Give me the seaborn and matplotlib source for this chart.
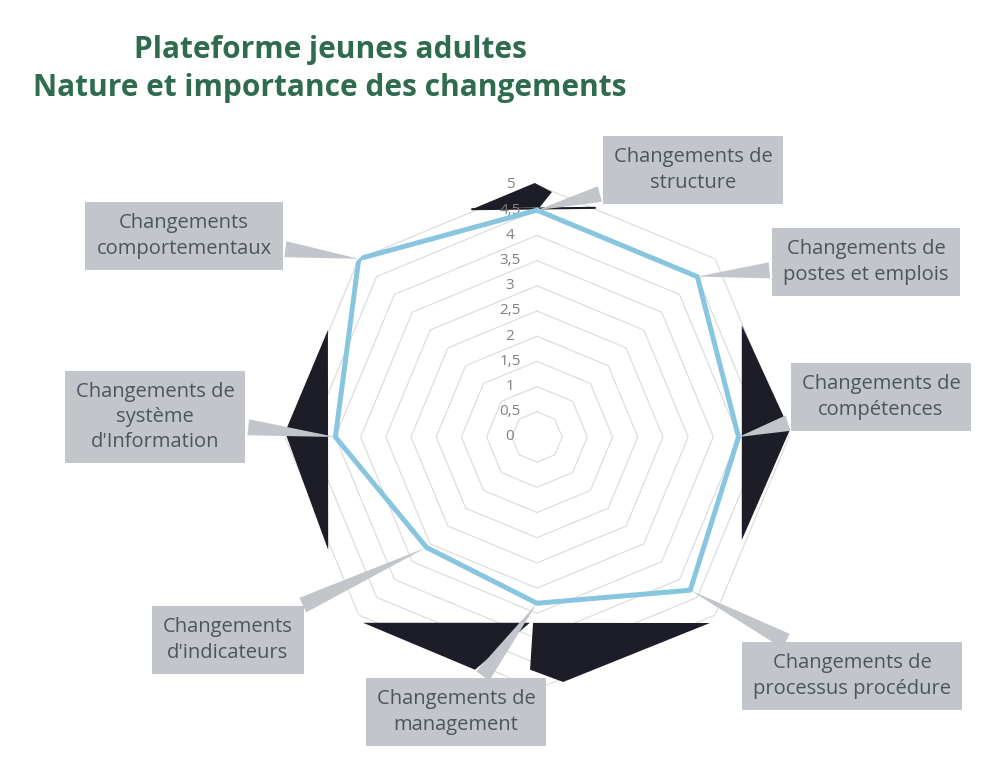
import numpy as np
import pandas as pd
import matplotlib
matplotlib.use("Agg")
import matplotlib.pyplot as plt
import matplotlib.transforms as mtransforms
import seaborn as sns

# style
sns.set_theme(style="white")
plt.rcParams['font.family'] = ['Open Sans', 'DejaVu Sans']

# données
categories = [
    "Changements de\nstructure",
    "Changements de\npostes et emplois",
    "Changements de\ncompétences",
    "Changements de\nprocessus procédure",
    "Changements de\nmanagement",
    "Changements\nd'indicateurs",
    "Changements de\nsystème\nd'Information",
    "Changements\ncomportementaux",
]
scores = [4.5, 4.5, 4.0, 4.3, 3.3, 3.1, 4.0, 5.0]

ring_levels = [0.5, 1, 1.5, 2, 2.5, 3, 3.5, 4, 4.5, 5]
tick_values = [0, 0.5, 1, 1.5, 2, 2.5, 3, 3.5, 4, 4.5, 5]
tick_labels = ["0", "0,5", "1", "1,5", "2", "2,5", "3", "3,5", "4", "4,5", "5"]

title = "Plateforme jeunes adultes\nNature et importance des changements"

# position des étiquettes (pixels figure, depuis le bas)
label_pos = [(693, 601), (866, 509), (881, 374), (852, 95),
             (456, 59), (228, 131), (155, 354), (184, 535)]

# ombres noires des bulles (scan) : angles en degrés, rayons
shadows = [
    ([344.1, 359.5, 3.5, 0.7], [4.70, 5.04, 4.87, 4.56]),
    ([61.4, 88.4, 116.7], [4.63, 5.02, 4.55]),
    ([223.1, 182.2, 194.9], [5.05, 3.69, 4.78]),
    ([181.2, 137.1, 173.9, 181.7], [3.69, 5.04, 4.89, 4.62]),
    ([297.1, 271.1, 241.6], [4.66, 5.0, 4.71]),
]
shadow_edge = ([344.1, 14.2], [4.70, 4.69])

n = len(categories)
theta = np.linspace(0, 2 * np.pi, n, endpoint=False)
theta_closed = np.append(theta, 2 * np.pi)

fig = plt.figure(figsize=(9.92, 7.71), dpi=100)
fig.patch.set_facecolor("white")
ax = fig.add_axes([0.2873, 0.1064, 0.508, 0.6537], projection="polar")
ax.set_theta_offset(np.pi / 2)
ax.set_theta_direction(-1)

# grille octogonale
for lv in ring_levels:
    ax.plot(theta_closed, [lv] * (n + 1), color="#dadada", lw=0.8, zorder=1)

for th, rr in shadows:
    ax.fill(np.deg2rad(th), rr, color="#1d1d28", lw=0, clip_on=False, zorder=1.5)
ax.plot(np.deg2rad(shadow_edge[0]), shadow_edge[1], color="#1d1d28", lw=1.5,
        clip_on=False, zorder=1.5)

df = pd.DataFrame({"theta": theta_closed, "score": scores + [scores[0]]})
sns.lineplot(data=df, x="theta", y="score", sort=False, color="#88c6e0",
             lw=3.6, ax=ax, zorder=3)

ax.set_ylim(0, 5)
ax.set_xticks([])
ax.set_yticks([])
ax.set_xlabel("")
ax.set_ylabel("")
ax.grid(False)
ax.spines["polar"].set_visible(False)

trans = mtransforms.offset_copy(ax.transData, fig=fig, x=-27, y=0, units="dots")
for v, lab in zip(tick_values, tick_labels):
    ax.text(0, v, lab, transform=trans, ha="center", va="center",
            fontsize=11, color="#808080", zorder=2)

for i in range(n):
    ax.annotate(categories[i], xy=(theta[i], scores[i]), xycoords="data",
                xytext=label_pos[i], textcoords="figure pixels",
                ha="center", va="center", fontsize=14.5, color="#4b5560",
                linespacing=1.35, multialignment="center",
                bbox=dict(boxstyle="square,pad=0.55", fc="#c2c6ca", ec="none"),
                arrowprops=dict(arrowstyle="wedge,tail_width=0.8,shrink_factor=0.5",
                                fc="#c2c6ca", ec="none", shrinkB=0),
                annotation_clip=False, zorder=4)

fig.text(330 / 992, 1 - 69 / 771, title, ha="center", va="center",
         fontsize=21.5, fontweight="bold", color="#2f6b4f", linespacing=1.35)

fig.savefig("out.png", dpi=100)
